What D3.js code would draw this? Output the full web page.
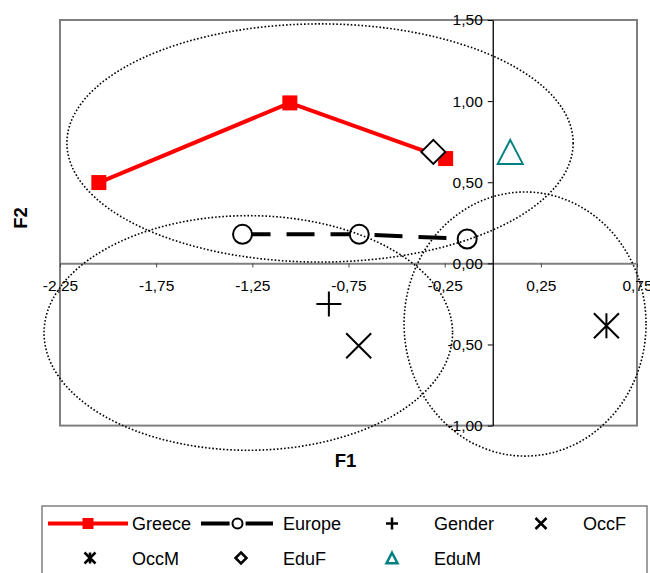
<!DOCTYPE html>
<html>
<head>
<meta charset="utf-8">
<script src="https://cdn.jsdelivr.net/npm/d3@7"></script>
<style>
	body { margin: 0; background: #fff; }
	text { font-family: "Liberation Sans", Arial, sans-serif; fill: #000; }
</style>
</head>
<body>
<svg id="chart" width="650" height="573"></svg>
<script>
// values
var greeceX = [-2.048, -1.055, -0.245];
var greeceY = [0.498, 0.989, 0.646];
var europeX = [-1.301, -0.694, -0.133];
var europeY = [0.179, 0.179, 0.150];

var pointNames = ['Gender', 'OccF', 'OccM', 'EduF', 'EduM'];
var pointX = [-0.852, -0.697, 0.591, -0.309, 0.091];
var pointY = [-0.250, -0.508, -0.385, 0.687, 0.687];

var ellipseCx = [-0.898, -1.271, 0.168];
var ellipseCy = [0.742, -0.429, -0.374];
var ellipseRx = [1.316, 1.062, 0.629];
var ellipseRy = [0.734, 0.723, 0.814];

var xTicks = [-2.25, -1.75, -1.25, -0.75, -0.25, 0.25, 0.75];
var yTicks = [-1, -0.5, 0, 0.5, 1, 1.5];
var legendNames = ['Greece', 'Europe', 'Gender', 'OccF', 'OccM', 'EduF', 'EduM'];

(function() {
	var svg = d3.select('#chart'),
		plot = {left: 60, right: 637, top: 20, bottom: 425.6};

	var x = d3.scaleLinear().domain([-2.25, 0.75]).range([plot.left, plot.right]);
	var y = d3.scaleLinear().domain([-1, 1.5]).range([plot.bottom, plot.top]);

	var locale = d3.formatLocale({decimal: ',', thousands: '.', grouping: [3], currency: ['', ''], minus: '-'});
	var fmt = locale.format('.2f');

	var markerColor = {Gender: '#000', OccF: '#000', OccM: '#000', EduF: '#000', EduM: '#008080'};

	// marker paths, s = half size
	function markerPath(name, s) {
		switch (name) {
			case 'Gender': return 'M' + (-s) + ',0H' + s + 'M0,' + (-s) + 'V' + s;
			case 'OccF': return 'M' + (-s) + ',' + (-s) + 'L' + s + ',' + s + 'M' + (-s) + ',' + s + 'L' + s + ',' + (-s);
			case 'OccM': return 'M' + (-s) + ',' + (-s) + 'L' + s + ',' + s + 'M' + (-s) + ',' + s + 'L' + s + ',' + (-s) + 'M0,' + (-s) + 'V' + s;
			case 'EduF': return 'M0,' + (-s) + 'L' + s + ',0L0,' + s + 'L' + (-s) + ',0Z';
			case 'EduM': return 'M0,' + (-s * 0.96) + 'L' + s + ',' + (s * 0.96) + 'L' + (-s) + ',' + (s * 0.96) + 'Z';
		}
	}

	// plot frame
	svg.append('rect')
		.attr('x', plot.left).attr('y', plot.top)
		.attr('width', plot.right - plot.left).attr('height', plot.bottom - plot.top)
		.attr('fill', 'none').attr('stroke', '#808080').attr('stroke-width', 2);

	// X axis through y = 0
	var xAxis = svg.append('g')
		.attr('transform', 'translate(0,' + y(0) + ')')
		.call(d3.axisBottom(x).tickValues(xTicks).tickSize(4).tickSizeOuter(0).tickPadding(12.5).tickFormat(fmt));
	xAxis.attr('font-family', null).attr('font-size', null);
	xAxis.select('.domain').attr('stroke', '#808080').attr('stroke-width', 2);
	xAxis.selectAll('.tick line').attr('stroke', '#444');
	xAxis.selectAll('text').style('font-size', '15.5px');

	// Y axis through x = 0
	var yAxis = svg.append('g')
		.attr('transform', 'translate(' + x(0) + ',0)')
		.call(d3.axisLeft(y).tickValues(yTicks).tickSize(5).tickSizeOuter(0).tickPadding(5).tickFormat(fmt));
	yAxis.attr('font-family', null).attr('font-size', null);
	yAxis.select('.domain').attr('stroke', '#000').attr('stroke-width', 1.3);
	yAxis.selectAll('.tick line').attr('stroke', '#000');
	yAxis.selectAll('text').style('font-size', '15.5px');

	// axis titles
	svg.append('text')
		.attr('x', (plot.left + plot.right) / 2 - 3).attr('y', 466.5)
		.attr('text-anchor', 'middle')
		.style('font-size', '18.5px').style('font-weight', 'bold')
		.text('F1');
	svg.append('text')
		.attr('transform', 'translate(26.5,218) rotate(-90)')
		.attr('text-anchor', 'middle')
		.style('font-size', '18.5px').style('font-weight', 'bold')
		.text('F2');

	var greece = greeceX.map(function(d, i) { return [d, greeceY[i]]; });
	var europe = europeX.map(function(d, i) { return [d, europeY[i]]; });
	var line = d3.line().x(function(d) { return x(d[0]); }).y(function(d) { return y(d[1]); });

	// Europe dashed line
	svg.append('path')
		.attr('d', line(europe))
		.attr('fill', 'none').attr('stroke', '#000').attr('stroke-width', 4)
		.attr('stroke-dasharray', '28,16');

	// Greece line
	svg.append('path')
		.attr('d', line(greece))
		.attr('fill', 'none').attr('stroke', '#ff0000').attr('stroke-width', 4);

	svg.selectAll('.greece-pt')
		.data(greece)
		.enter().append('rect')
		.attr('class', 'greece-pt')
		.attr('x', function(d) { return x(d[0]) - 7.5; })
		.attr('y', function(d) { return y(d[1]) - 7.5; })
		.attr('width', 15).attr('height', 15)
		.attr('fill', '#ff0000');

	svg.selectAll('.europe-pt')
		.data(europe)
		.enter().append('circle')
		.attr('class', 'europe-pt')
		.attr('cx', function(d) { return x(d[0]); })
		.attr('cy', function(d) { return y(d[1]); })
		.attr('r', 9.5)
		.attr('fill', '#fff').attr('stroke', '#000').attr('stroke-width', 2);

	// single points
	pointNames.forEach(function(name, i) {
		var closed = name === 'EduF' || name === 'EduM';
		svg.append('path')
			.attr('transform', 'translate(' + x(pointX[i]) + ',' + y(pointY[i]) + ')')
			.attr('d', markerPath(name, name === 'EduF' ? 12 : 12.5))
			.attr('fill', closed ? '#fff' : 'none')
			.attr('stroke', markerColor[name])
			.attr('stroke-width', 2);
	});

	// dotted ellipses, drawn over the chart
	ellipseCx.forEach(function(cx, i) {
		svg.append('ellipse')
			.attr('cx', x(cx)).attr('cy', y(ellipseCy[i]))
			.attr('rx', x(ellipseRx[i]) - x(0))
			.attr('ry', y(0) - y(ellipseRy[i]))
			.attr('fill', 'none').attr('stroke', '#000')
			.attr('stroke-width', 1.6).attr('stroke-dasharray', '1.6,2');
	});

	// legend
	var legend = svg.append('g');
	legend.append('rect')
		.attr('x', 42).attr('y', 506).attr('width', 605).attr('height', 80)
		.attr('fill', '#fff').attr('stroke', '#808080').attr('stroke-width', 1.5);

	var colX = [132, 283, 434, 583], rowY = [523.5, 558];

	legendNames.forEach(function(name, i) {
		var tx = colX[i % 4], ty = rowY[Math.floor(i / 4)], cx = tx - 44;
		var item = legend.append('g');

		if (name === 'Greece') {
			item.append('line').attr('x1', 48).attr('x2', 128).attr('y1', ty).attr('y2', ty)
				.attr('stroke', '#ff0000').attr('stroke-width', 4);
			item.append('rect').attr('x', 88 - 5.5).attr('y', ty - 5.5).attr('width', 11).attr('height', 11)
				.attr('fill', '#ff0000');
		}
		else if (name === 'Europe') {
			item.append('line').attr('x1', 201).attr('x2', 273).attr('y1', ty).attr('y2', ty)
				.attr('stroke', '#000').attr('stroke-width', 4).attr('stroke-dasharray', '28.6,16');
			item.append('circle').attr('cx', 237.5).attr('cy', ty).attr('r', 5)
				.attr('fill', '#fff').attr('stroke', '#000').attr('stroke-width', 2);
		}
		else {
			var closed = name === 'EduF' || name === 'EduM';
			item.append('path')
				.attr('transform', 'translate(' + (cx + 2) + ',' + ty + ')')
				.attr('d', markerPath(name, name === 'Gender' ? 6 : 5.5))
				.attr('fill', closed ? '#fff' : 'none')
				.attr('stroke', markerColor[name])
				.attr('stroke-width', 2.5);
		}

		item.append('text')
			.attr('x', tx).attr('y', ty + 6.5)
			.style('font-size', '18px')
			.text(name);
	});
})();
</script>
</body>
</html>
